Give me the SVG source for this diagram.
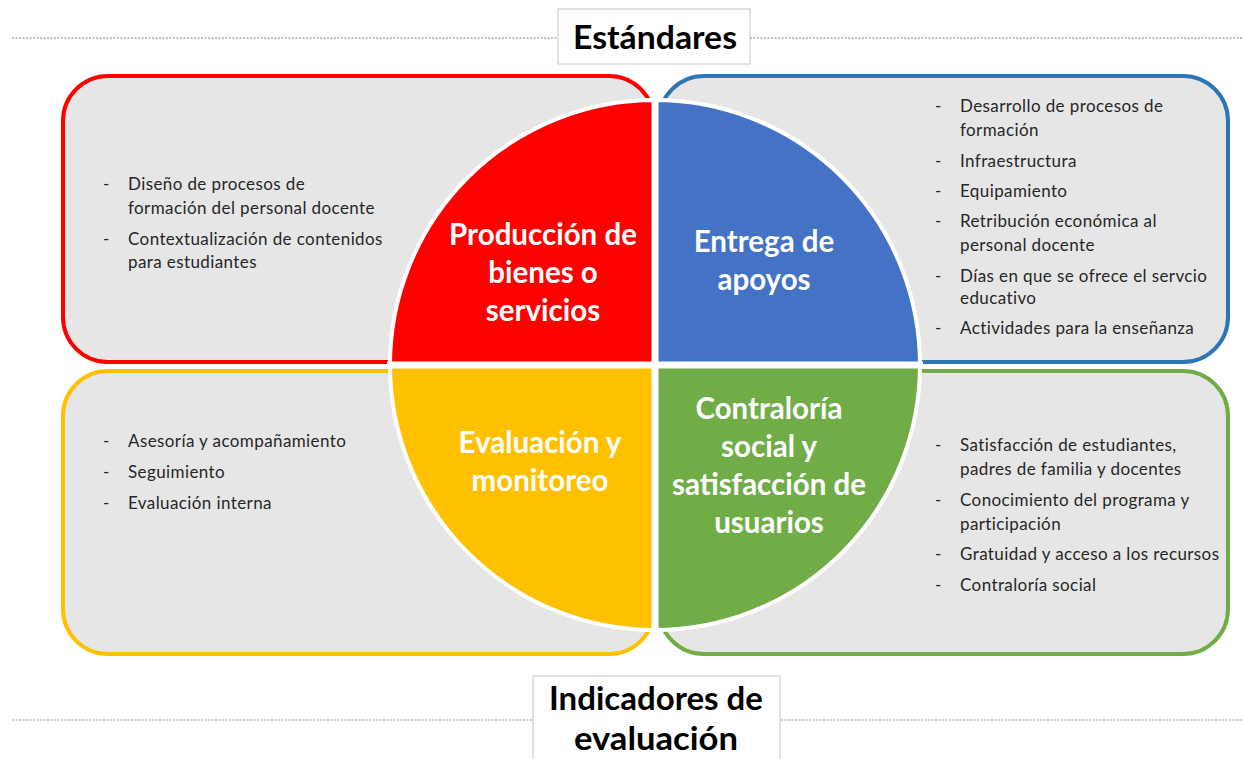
<svg xmlns="http://www.w3.org/2000/svg" width="1243" height="759" viewBox="0 0 1243 759">
<style>
.box{fill:#E6E6E6;stroke-width:4}
.lst{font-family:Lato,"Open Sans","Liberation Sans",sans-serif;font-size:17px;letter-spacing:0.4px;fill:#262626}
.q{font-family:Lato,"Open Sans","Liberation Sans",sans-serif;font-size:29.5px;font-weight:bold;fill:#FFFFFF;text-anchor:middle}
.ttl{font-family:Lato,"Open Sans","Liberation Sans",sans-serif;font-size:33px;font-weight:bold;fill:#000000;text-anchor:middle}
.dot{stroke-width:1.2;stroke-dasharray:2 1.5;fill:none}
.wedge{stroke:#FFFFFF;stroke-width:4}
</style>
<rect width="1243" height="759" fill="#FFFFFF"/>
<g id="connectors">
<line class="dot" x1="12" y1="38" x2="558" y2="38" stroke="#808080"/>
<line class="dot" x1="750" y1="38" x2="1243" y2="38" stroke="#808080"/>
<line class="dot" x1="12" y1="720" x2="533" y2="720" stroke="#8496B0"/>
<line class="dot" x1="781" y1="720" x2="1243" y2="720" stroke="#8496B0"/>
</g>
<g id="title-top">
<rect x="558" y="9" width="192" height="55" fill="#FFFFFF" stroke="#C8C8C8" stroke-width="1"/>
<text class="ttl" x="655" y="49" textLength="164" lengthAdjust="spacingAndGlyphs">Estándares</text>
</g>
<g id="title-bottom">
<rect x="533" y="676" width="247" height="90" fill="#FFFFFF" stroke="#C8C8C8" stroke-width="1"/>
<text class="ttl" x="656" y="710" textLength="214" lengthAdjust="spacingAndGlyphs">Indicadores de</text>
<text class="ttl" x="656" y="750" textLength="164" lengthAdjust="spacingAndGlyphs">evaluación</text>
</g>
<g id="box-red">
<rect class="box" x="63" y="76" width="591" height="286" rx="45" stroke="#FF0000"/>
<text class="lst" x="103" y="190">-</text><text class="lst" x="128" y="190">Diseño de procesos de</text>
<text class="lst" x="128" y="214">formación del personal docente</text>
<text class="lst" x="103" y="245">-</text><text class="lst" x="128" y="245">Contextualización de contenidos</text>
<text class="lst" x="128" y="268">para estudiantes</text>
</g>
<g id="box-blue">
<rect class="box" x="659" y="76" width="569" height="286" rx="45" stroke="#2E75B6"/>
<text class="lst" x="935" y="112">-</text><text class="lst" x="960" y="112">Desarrollo de procesos de</text>
<text class="lst" x="960" y="136">formación</text>
<text class="lst" x="935" y="167">-</text><text class="lst" x="960" y="167">Infraestructura</text>
<text class="lst" x="935" y="197">-</text><text class="lst" x="960" y="197">Equipamiento</text>
<text class="lst" x="935" y="227">-</text><text class="lst" x="960" y="227">Retribución económica al</text>
<text class="lst" x="960" y="251">personal docente</text>
<text class="lst" x="935" y="282">-</text><text class="lst" x="960" y="282">Días en que se ofrece el servcio</text>
<text class="lst" x="960" y="304">educativo</text>
<text class="lst" x="935" y="334">-</text><text class="lst" x="960" y="334">Actividades para la enseñanza</text>
</g>
<g id="box-yellow">
<rect class="box" x="63" y="371" width="591" height="283" rx="45" stroke="#FFC000"/>
<text class="lst" x="103" y="447">-</text><text class="lst" x="128" y="447">Asesoría y acompañamiento</text>
<text class="lst" x="103" y="478">-</text><text class="lst" x="128" y="478">Seguimiento</text>
<text class="lst" x="103" y="509">-</text><text class="lst" x="128" y="509">Evaluación interna</text>
</g>
<g id="box-green">
<rect class="box" x="659" y="371" width="569" height="283" rx="45" stroke="#70AD47"/>
<text class="lst" x="935" y="451">-</text><text class="lst" x="960" y="451">Satisfacción de estudiantes,</text>
<text class="lst" x="960" y="475">padres de familia y docentes</text>
<text class="lst" x="935" y="506">-</text><text class="lst" x="960" y="506">Conocimiento del programa y</text>
<text class="lst" x="960" y="530">participación</text>
<text class="lst" x="935" y="560">-</text><text class="lst" x="960" y="560">Gratuidad y acceso a los recursos</text>
<text class="lst" x="935" y="591">-</text><text class="lst" x="960" y="591">Contraloría social</text>
</g>
<g id="q-red">
<path class="wedge" d="M655,365 L390,365 A265,265 0 0 1 655,100 Z" fill="#FF0000"/>
<text class="q" x="543" y="245">Producción de</text>
<text class="q" x="543" y="283">bienes o</text>
<text class="q" x="543" y="321">servicios</text>
</g>
<g id="q-blue">
<path class="wedge" d="M655,365 L655,100 A265,265 0 0 1 920,365 Z" fill="#4472C4"/>
<text class="q" x="764" y="252">Entrega de</text>
<text class="q" x="764" y="290">apoyos</text>
</g>
<g id="q-yellow">
<path class="wedge" d="M655,365 L655,630 A265,265 0 0 1 390,365 Z" fill="#FFC000"/>
<text class="q" x="540" y="453">Evaluación y</text>
<text class="q" x="540" y="491">monitoreo</text>
</g>
<g id="q-green">
<path class="wedge" d="M655,365 L920,365 A265,265 0 0 1 655,630 Z" fill="#70AD47"/>
<text class="q" x="769" y="419">Contraloría</text>
<text class="q" x="769" y="457">social y</text>
<text class="q" x="769" y="495">satisfacción de</text>
<text class="q" x="769" y="533">usuarios</text>
</g>
<g id="dividers">
<line x1="655" y1="97" x2="655" y2="633" stroke="#FFFFFF" stroke-width="7"/>
<line x1="387" y1="365" x2="923" y2="365" stroke="#FFFFFF" stroke-width="7"/>
</g>
</svg>
